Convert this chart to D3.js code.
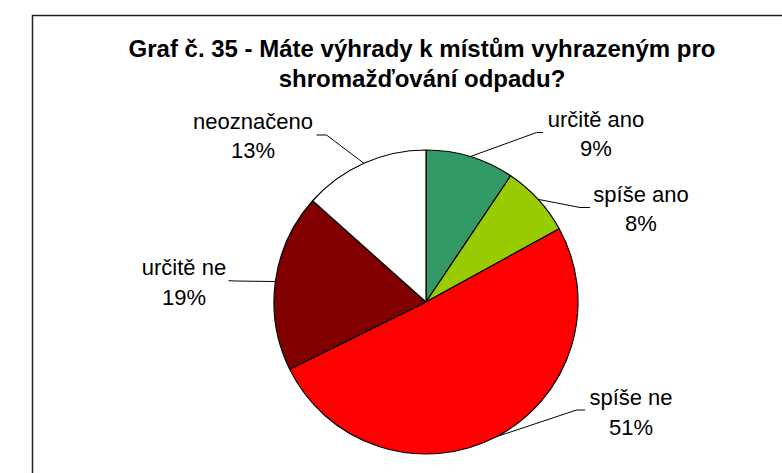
<!DOCTYPE html>
<html>
<head>
<meta charset="utf-8">
<script src="https://cdn.jsdelivr.net/npm/d3@7"></script>
<style>
  body { margin: 0; background: #fff; }
  text { font-family: "Liberation Sans", Arial, sans-serif; fill: #000; }
</style>
</head>
<body>
<script>
// data
let categories = ['určitě ano', 'spíše ano', 'spíše ne', 'určitě ne', 'neoznačeno'];
let values = [9.4, 7.6, 50.7, 18.9, 13.4];
let percentLabels = ['9%', '8%', '51%', '19%', '13%'];
let colors = ['#339966', '#99cc00', '#ff0000', '#800000', '#ffffff'];
let titleLines = ['Graf č. 35 - Máte výhrady k místům vyhrazeným pro', 'shromažďování odpadu?'];

// label layout: text centre, first baseline, leader elbow, leader end
let labelPos = [
  { x: 596, y: 126.5, elbow: [536.5, 132.5], end: [543, 132.5] },
  { x: 641, y: 201.5, elbow: [580, 207.5], end: [590, 207.5] },
  { x: 631, y: 405, elbow: [576.5, 410], end: [585, 410] },
  { x: 184, y: 275, elbow: [236, 281], end: [228.5, 280.7] },
  { x: 253, y: 128.5, elbow: [326.5, 135], end: [316.5, 135] }
];

let width = 782;
let height = 473;
let cx = 426, cy = 302, radius = 152;

let svg = d3.select('body').append('svg')
    .attr('width', width)
    .attr('height', height);

// chart frame (runs off the right and bottom)
svg.append('rect')
    .attr('x', 32.5)
    .attr('y', 15.5)
    .attr('width', 800)
    .attr('height', 500)
    .attr('fill', 'none')
    .attr('stroke', '#222')
    .attr('stroke-width', 1.5);

// title
svg.append('g').selectAll('text')
    .data(titleLines)
  .enter().append('text')
    .attr('x', 422)
    .attr('y', function(d, i){ return 57 + i * 30; })
    .attr('text-anchor', 'middle')
    .style('font-size', '24px')
    .style('font-weight', 'bold')
    .text(function(d){ return d; });

let pie = d3.pie().sort(null).value(function(d){ return d; });
let arcs = pie(values);
let arc = d3.arc().innerRadius(0).outerRadius(radius);

let g = svg.append('g')
    .attr('transform', 'translate(' + cx + ',' + cy + ')');

g.selectAll('path.slice')
    .data(arcs)
  .enter().append('path')
    .attr('class', 'slice')
    .attr('d', arc)
    .attr('fill', function(d, i){ return colors[i]; })
    .attr('stroke', '#000')
    .attr('stroke-width', 1.2)
    .attr('stroke-linejoin', 'round');

// leader lines start on the rim at each slice's mid angle
let line = d3.line();
svg.selectAll('path.leader')
    .data(arcs)
  .enter().append('path')
    .attr('class', 'leader')
    .attr('fill', 'none')
    .attr('stroke', '#000')
    .attr('stroke-width', 1)
    .attr('d', function(d, i){
      let a = (d.startAngle + d.endAngle) / 2;
      let start = [cx + radius * Math.sin(a), cy - radius * Math.cos(a)];
      return line([start, labelPos[i].elbow, labelPos[i].end]);
    });

let labels = svg.selectAll('text.label')
    .data(arcs)
  .enter().append('text')
    .attr('class', 'label')
    .attr('text-anchor', 'middle')
    .style('font-size', '22px');

labels.append('tspan')
    .attr('x', function(d, i){ return labelPos[i].x; })
    .attr('y', function(d, i){ return labelPos[i].y; })
    .text(function(d, i){ return categories[i]; });

labels.append('tspan')
    .attr('x', function(d, i){ return labelPos[i].x; })
    .attr('y', function(d, i){ return labelPos[i].y + 29.5; })
    .text(function(d, i){ return percentLabels[i]; });
</script>
</body>
</html>
